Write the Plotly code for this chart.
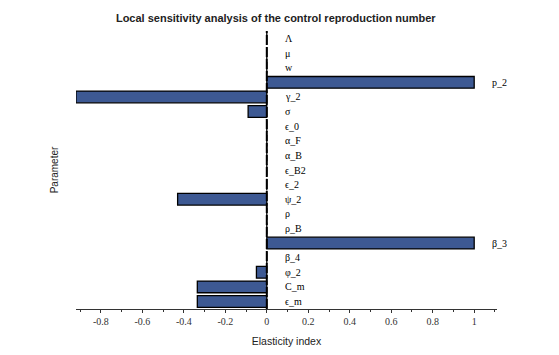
import plotly.graph_objs as go

params = ['Λ', 'μ', 'w', 'p_2', 'γ_2', 'σ', 'ϵ_0', 'α_F', 'α_B', 'ϵ_B2',
          'ϵ_2', 'ψ_2', 'ρ', 'ρ_B', 'β_3', 'β_4', 'φ_2', 'C_m', 'ϵ_m']
elasticity = [0, 0, 0, 1.0, -0.92, -0.09, 0, 0, 0, 0,
              0, -0.43, 0, 0, 1.0, 0, -0.05, -0.335, -0.335]
tick_vals = [-0.8, -0.6, -0.4, -0.2, 0, 0.2, 0.4, 0.6, 0.8, 1]
tick_text = ['-0.8', '-0.6', '-0.4', '-0.2', '0', '0.2', '0.4', '0.6', '0.8', '1']

fig = go.Figure()
fig.add_trace(go.Bar(
    x=elasticity, y=params, orientation='h',
    marker=dict(color='#3d5993', line=dict(color='black', width=1.3)),
    width=0.8, showlegend=False,
))

# parameter names sit just right of the zero line (or of the bar end)
for p, v in zip(params, elasticity):
    fig.add_annotation(x=max(0, v), y=p, text=p, showarrow=False,
                       xanchor='left', xshift=16,
                       font=dict(family='Liberation Serif', size=10, color='black'))

fig.add_shape(type='line', x0=0, x1=0, y0=0, y1=1, yref='paper',
              line=dict(color='black', width=2, dash='10px,2px'))

# page body adds an 8px offset, margins compensate for it
fig.update_layout(
    width=559, height=355,
    margin=dict(l=68, r=70, t=23, b=54, autoexpand=False),
    plot_bgcolor='white', paper_bgcolor='white',
    title=dict(text='<b>Local sensitivity analysis of the control reproduction number</b>',
               x=0.479, xanchor='center', y=0.972, yanchor='middle',
               font=dict(family='Liberation Sans', size=11, color='#222')),
)
fig.update_xaxes(range=[-0.92, 1.11], tickvals=tick_vals, ticktext=tick_text,
                 showgrid=False, zeroline=False, showline=True, linecolor='#333',
                 linewidth=1, ticks='outside', ticklen=3, tickcolor='#333',
                 minor=dict(dtick=0.1, ticks='outside', ticklen=2, tickcolor='#333'),
                 tickfont=dict(family='Liberation Serif', size=10, color='#333'),
                 automargin=False,
                 title=dict(text='Elasticity index', standoff=11,
                            font=dict(family='Liberation Sans', size=10.5, color='#222')))
fig.update_yaxes(autorange='reversed', showticklabels=False, showgrid=False,
                 zeroline=False, showline=False, ticks='', automargin=False,
                 title=dict(text='Parameter', standoff=14,
                            font=dict(family='Liberation Sans', size=10, color='#222')))

fig.write_html("out.html")
